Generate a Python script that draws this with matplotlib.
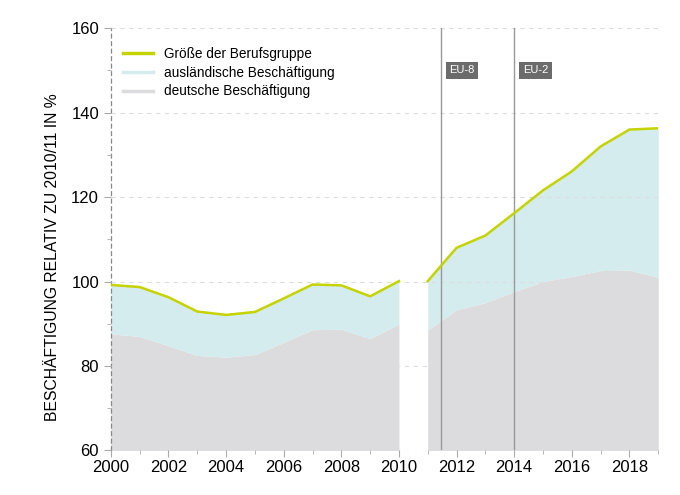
import numpy as np
import matplotlib
matplotlib.use("Agg")
import matplotlib.pyplot as plt

# data (two segments, gap between 2010 and 2011)
years_a = [2000, 2001, 2002, 2003, 2004, 2005, 2006, 2007, 2008, 2009, 2010]
total_a = [99.2, 98.7, 96.3, 92.9, 92.1, 92.8, 96.0, 99.3, 99.1, 96.5, 100.1]
german_a = [87.6, 87.0, 84.8, 82.5, 82.1, 82.7, 85.6, 88.6, 88.7, 86.5, 89.9]

years_b = [2011, 2012, 2013, 2014, 2015, 2016, 2017, 2018, 2019]
total_b = [100.1, 108.0, 110.9, 116.2, 121.6, 126.1, 132.0, 136.0, 136.3]
german_b = [88.5, 93.3, 95.0, 97.6, 100.0, 101.2, 102.6, 102.7, 101.0]

events = [("EU-8", 2011.45), ("EU-2", 2014.0)]

c_line = "#c5d300"
c_foreign = "#d4ecee"
c_german = "#dcdcde"

plt.rcParams["font.family"] = ["Liberation Sans", "DejaVu Sans"]

fig = plt.figure(figsize=(6.8, 4.95), dpi=100)
ax = fig.add_axes([0.163, 0.09, 0.805, 0.853])

for yrs, tot, ger in [(years_a, total_a, german_a), (years_b, total_b, german_b)]:
    ax.fill_between(yrs, 60, ger, color=c_german, lw=0)
    ax.fill_between(yrs, ger, tot, color=c_foreign, lw=0)
    ax.plot(yrs, tot, color=c_line, lw=1.8, zorder=4)

for lab, x in events:
    ax.axvline(x, color="#999999", lw=1.0, zorder=3)
    ax.text(x + 0.3, 150, lab, color="white", fontsize=8, va="center", ha="left",
            bbox=dict(boxstyle="square,pad=0.3", fc="#6b6b6b", ec="none"), zorder=5)

# legend
ax.plot([], [], color=c_line, lw=2.5, label="Größe der Berufsgruppe")
ax.plot([], [], color=c_foreign, lw=2.5, label="ausländische Beschäftigung")
ax.plot([], [], color=c_german, lw=2.5, label="deutsche Beschäftigung")
h, l = ax.get_legend_handles_labels()
ax.legend(h[-3:], l[-3:], loc="upper left", frameon=False, fontsize=9.8,
          handlelength=2.2, labelspacing=0.35, bbox_to_anchor=(0.0, 0.985))

ax.set_xlim(2000, 2019)
ax.set_ylim(60, 160)
ax.set_xticks(range(2000, 2019, 2))
ax.set_xticks(range(2001, 2020, 2), minor=True)
ax.set_yticks(range(60, 161, 20))
ax.set_yticks(range(70, 160, 20), minor=True)
ax.tick_params(axis="both", which="major", labelsize=12, color="#aaaaaa", length=5)
ax.tick_params(axis="both", which="minor", color="#aaaaaa", length=3)
ax.tick_params(axis="x", direction="out", pad=2)

ax.grid(axis="y", which="major", color="#dddddd", ls=(0, (4, 4)), lw=0.8)
ax.set_axisbelow(False)
for s in ["top", "right", "bottom"]:
    ax.spines[s].set_visible(False)
ax.spines["left"].set_color("#888888")
ax.spines["left"].set_linestyle((0, (3, 3)))
ax.spines["left"].set_linewidth(0.9)
ax.axhline(60, color="#dddddd", ls=(0, (4, 4)), lw=0.8)

ax.set_ylabel("BESCHÄFTIGUNG RELATIV ZU 2010/11 IN %", fontsize=11.3)
ax.yaxis.set_label_coords(-0.093, 0.457)

fig.savefig("out.png", dpi=100)
